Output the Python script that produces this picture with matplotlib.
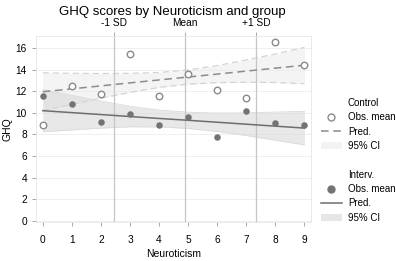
import numpy as np
import matplotlib
matplotlib.use("Agg")
import matplotlib.pyplot as plt
from matplotlib.lines import Line2D
from matplotlib.patches import Patch

# =========================
# DATA
# =========================

neuro = [0, 1, 2, 3, 4, 5, 6, 7, 8, 9]

ctrl_obs = [8.9, 12.5, 11.7, 15.4, 11.55, 13.6, 12.15, 11.35, 16.55, 14.4]
intv_obs = [11.55, 10.85, 9.15, 9.9, 8.9, 9.6, 7.8, 10.2, 9.05, 8.9]

ctrl_pred = [11.95, 12.22, 12.49, 12.77, 13.04, 13.31, 13.58, 13.86, 14.13, 14.40]
ctrl_hi = [13.70, 13.65, 13.63, 13.65, 13.73, 13.97, 14.37, 14.89, 15.44, 16.05]
ctrl_lo = [10.20, 10.79, 11.35, 11.89, 12.35, 12.65, 12.79, 12.83, 12.80, 12.70]

intv_pred = [10.20, 10.02, 9.84, 9.66, 9.48, 9.31, 9.13, 8.95, 8.77, 8.59]
intv_hi = [12.15, 11.62, 11.09, 10.61, 10.26, 10.06, 9.98, 10.00, 10.07, 10.14]
intv_lo = [8.25, 8.42, 8.59, 8.71, 8.70, 8.56, 8.28, 7.90, 7.47, 7.04]

sd_pos = [2.45, 4.9, 7.35]
sd_labels = ["-1 SD", "Mean", "+1 SD"]

# =========================
# PLOT
# =========================

plt.rcParams["font.family"] = ["Liberation Sans", "DejaVu Sans"]

fig = plt.figure(figsize=(3.96, 2.61), dpi=100)
ax = fig.add_axes([0.091, 0.149, 0.694, 0.713])

ax.set_xlim(-0.23, 9.22)
ax.set_ylim(-0.1, 17.1)

for y in range(0, 17, 2):
    ax.axhline(y, color="#ececec", lw=0.6, zorder=0)

ax.fill_between(neuro, ctrl_lo, ctrl_hi, color="#ebebeb", alpha=0.55, lw=0, zorder=1)
ax.plot(neuro, ctrl_hi, color="#d4d4d4", lw=0.9, ls=(0, (5, 3)), zorder=2)
ax.plot(neuro, ctrl_lo, color="#d4d4d4", lw=0.9, ls=(0, (5, 3)), zorder=2)
ax.fill_between(neuro, intv_lo, intv_hi, color="#d6d6d6", alpha=0.55, lw=0, zorder=1)
ax.plot(neuro, intv_hi, color="#dadada", lw=0.6, zorder=2)
ax.plot(neuro, intv_lo, color="#dadada", lw=0.6, zorder=2)

for xv in sd_pos:
    ax.axvline(xv, color="#c6c6c6", lw=0.9, zorder=2)

ax.plot(neuro, ctrl_pred, color="#8c8c8c", lw=1.1, ls=(0, (5, 3)), zorder=3)
ax.plot(neuro, intv_pred, color="#6e6e6e", lw=1.1, zorder=3)

ax.scatter(neuro, ctrl_obs, s=22, facecolor="white", edgecolor="#8a8a8a", lw=1.0, zorder=4)
ax.scatter(neuro, intv_obs, s=22, color="#737373", lw=0, zorder=4)

for s in ax.spines.values():
    s.set_color("#e6e6e6")
    s.set_linewidth(0.6)

ax.set_xticks(neuro)
ax.set_yticks(range(0, 17, 2))
ax.tick_params(axis="both", labelsize=7.3, color="#999999", length=3, width=0.6)
ax.tick_params(axis="x", pad=6)
ax.set_xlabel("Neuroticism", fontsize=7.5, labelpad=3)
ax.set_ylabel("GHQ", fontsize=7.5, labelpad=2)

top = ax.secondary_xaxis("top")
top.set_xticks(sd_pos)
top.set_xticklabels(sd_labels)
top.tick_params(labelsize=7.3, color="#999999", length=3, width=0.6, pad=3)
top.spines["top"].set_visible(False)

fig.text(0.435, 0.955, "GHQ scores by Neuroticism and group", ha="center", va="center", fontsize=9.5)

handles = [
    Line2D([], [], ls="none"),
    Line2D([], [], ls="none", marker="o", mfc="white", mec="#8a8a8a", ms=5),
    Line2D([], [], color="#8c8c8c", lw=1.1, ls=(0, (5, 3))),
    Patch(facecolor="#f3f3f3", edgecolor="none"),
    Line2D([], [], ls="none"),
    Line2D([], [], ls="none"),
    Line2D([], [], ls="none", marker="o", color="#737373", ms=5),
    Line2D([], [], color="#6e6e6e", lw=1.1),
    Patch(facecolor="#e6e6e6", edgecolor="none"),
]
labels = ["Control", "Obs. mean", "Pred.", "95% CI", "", "Interv.", "Obs. mean", "Pred.", "95% CI"]
fig.legend(handles, labels, loc="upper left", bbox_to_anchor=(0.80, 0.64),
           frameon=False, fontsize=7, handlelength=2.2, handletextpad=0.6,
           labelspacing=0.45, borderaxespad=0)

fig.savefig("out.png", dpi=100)
